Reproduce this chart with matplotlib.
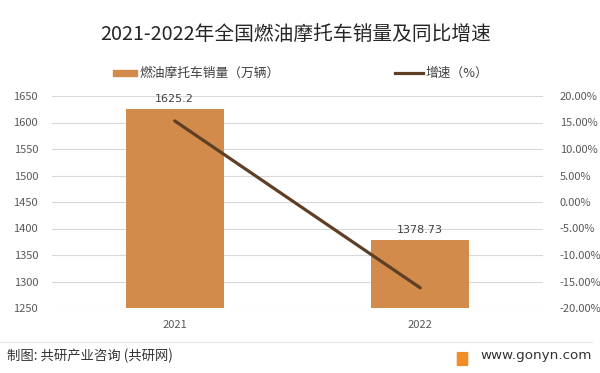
import matplotlib
matplotlib.use("Agg")
import matplotlib.pyplot as plt
from matplotlib.patches import FancyBboxPatch, Rectangle
from matplotlib.lines import Line2D

plt.rcParams['font.family'] = ['Noto Sans CJK SC', 'DejaVu Sans']

years = ['2021', '2022']
sales = [1625.2, 1378.73]          # 万辆
growth = [15.3, -16.2]             # %
left_ticks = [1250, 1300, 1350, 1400, 1450, 1500, 1550, 1600, 1650]
right_ticks = [-20, -15, -10, -5, 0, 5, 10, 15, 20]

bar_color = '#D38B4C'
line_color = '#5E3F26'
tick_color = '#595959'

fig = plt.figure(figsize=(6, 3.73), dpi=100)
H = 373.0
ax = fig.add_axes([52 / 600, 1 - 308 / H, 491 / 600, 212 / H])

x = list(range(len(years)))
ax.bar(x, sales, width=0.40, color=bar_color, zorder=2)
for xi, v in zip(x, sales):
    ax.text(xi, v + 9, f'{v:g}', ha='center', va='bottom', fontsize=8, color='#404040',
            family=['DejaVu Sans'])

ax.set_xlim(-0.5, 1.5)
ax.set_ylim(1250, 1650)
ax.set_yticks(left_ticks)
ax.set_xticks(x)
ax.set_xticklabels(years)
ax.grid(axis='y', color='#D9D9D9', linewidth=0.8, zorder=0)
ax.set_axisbelow(True)
for s in ax.spines.values():
    s.set_visible(False)
ax.tick_params(axis='both', length=0, labelsize=8, labelcolor=tick_color)
ax.tick_params(axis='y', pad=10)
ax.tick_params(axis='x', pad=9)

ax2 = ax.twinx()
ax2.plot(x, growth, color=line_color, linewidth=2.3, solid_capstyle='round', zorder=3)
ax2.set_ylim(-20, 20)
ax2.set_yticks(right_ticks)
ax2.set_yticklabels([f'{t:.2f}%' for t in right_ticks])
for s in ax2.spines.values():
    s.set_visible(False)
ax2.tick_params(axis='y', length=0, labelsize=8, labelcolor=tick_color, pad=12)

fig.text(296 / 600, 1 - 35 / H, '2021-2022年全国燃油摩托车销量及同比增速', ha='center', va='center',
         fontsize=14.2, color='#262626')

# legend
fig.add_artist(Rectangle((113 / 600, 1 - 76 / H), 24 / 600, 6 / H, color=bar_color,
                         transform=fig.transFigure))
fig.text(140 / 600, 1 - 73 / H, '燃油摩托车销量（万辆）', ha='left', va='center',
         fontsize=9.2, color='#404040')
fig.add_artist(Line2D([395 / 600, 423 / 600], [1 - 73 / H, 1 - 73 / H], color=line_color,
                      linewidth=2.3))
fig.text(425 / 600, 1 - 73 / H, '增速（%）', ha='left', va='center',
         fontsize=9.2, color='#404040')

# footer
fig.add_artist(Line2D([0.0, 592 / 600], [1 - 342 / H, 1 - 342 / H], color='#e6e6e6', linewidth=0.8))
fig.text(7 / 600, 1 - 356 / H, '制图: 共研产业咨询 (共研网)', ha='left', va='center',
         fontsize=9.6, color='#333333')
fig.text(592 / 600, 1 - 356 / H, 'www.gonyn.com', ha='right', va='center',
         fontsize=9.7, color='#333333', family=['DejaVu Sans'])
logo = FancyBboxPatch((458 / 600, 1 - 365 / H), 9 / 600, 12 / H,
                      boxstyle='round,pad=0.001', color='#F28C28', transform=fig.transFigure)
fig.add_artist(logo)

fig.savefig('out.png', dpi=100)
